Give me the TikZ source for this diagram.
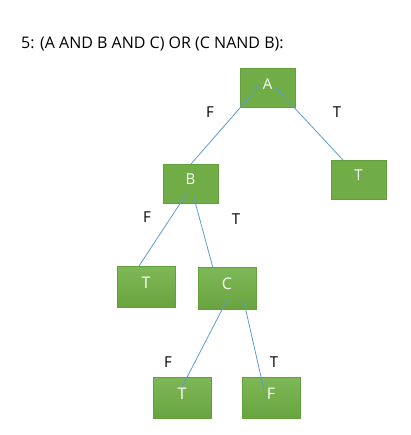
\documentclass[tikz,border=0pt]{standalone}
\usepackage{fontspec}
\setmainfont{Open Sans}
\definecolor{boxgreen}{RGB}{112,173,71}
\definecolor{boxtop}{RGB}{126,184,87}
\definecolor{boxbot}{RGB}{104,164,62}
\definecolor{boxedge}{RGB}{100,158,62}
\definecolor{linkblue}{RGB}{91,155,213}
\tikzset{
  tbox/.style={rectangle, fill=boxgreen, draw=boxedge, line width=0.4pt,
    minimum width=56pt, minimum height=39pt, inner sep=0pt,
    text=white, font=\fontsize{15}{15}\selectfont, text height=7pt, text depth=4pt},
  gbox/.style={tbox, top color=boxtop, bottom color=boxbot,
    minimum width=58pt, minimum height=41pt, font=\fontsize{16}{16}\selectfont},
  link/.style={draw=linkblue, line width=0.8pt},
  elab/.style={font=\fontsize{15}{15}\selectfont, text=black, inner sep=0pt}
}
\begin{document}
\begin{tikzpicture}[x=1pt,y=-1pt]
\useasboundingbox (0,0) rectangle (410,435);
\node[anchor=west, inner sep=0pt, font=\fontsize{16}{16}\selectfont] (title) at (21,44) {5: (A AND B AND C) OR (C NAND B):};
\node[tbox, minimum width=55pt] (A) at (267.5,88) {A};
\node[tbox, minimum width=55pt] (T1) at (358.5,179.5) {T};
\node[tbox, minimum width=55pt] (B) at (190.5,183.5) {B};
\node[gbox] (T2) at (146,286.5) {T};
\node[gbox, minimum height=42pt] (C) at (227,288) {C};
\node[gbox] (T3) at (182,397.5) {T};
\node[gbox] (F3) at (271,397.5) {F};
\coordinate (a1) at (260,85);
\coordinate (a2) at (275,87);
\coordinate (b0) at (191,164);
\coordinate (t10) at (343,160);
\coordinate (b1) at (187,193);
\coordinate (b2) at (194,198);
\coordinate (t20) at (139,266);
\coordinate (c0) at (213,268);
\coordinate (c1) at (227,300);
\coordinate (c2) at (244,302);
\coordinate (t30) at (182,387);
\coordinate (f30) at (264,390);
\draw[link] (a1) -- (b0);
\draw[link] (a2) -- (t10);
\draw[link] (b1) -- (t20);
\draw[link] (b2) -- (c0);
\draw[link] (c1) -- (t30);
\draw[link] (c2) -- (f30);
\node[elab] (lF1) at (210,112) {F};
\node[elab] (lT1) at (337,112) {T};
\node[elab] (lF2) at (147,217) {F};
\node[elab] (lT2) at (236,219) {T};
\node[elab] (lF3) at (168,362) {F};
\node[elab] (lT3) at (274,362) {T};
\end{tikzpicture}
\end{document}
